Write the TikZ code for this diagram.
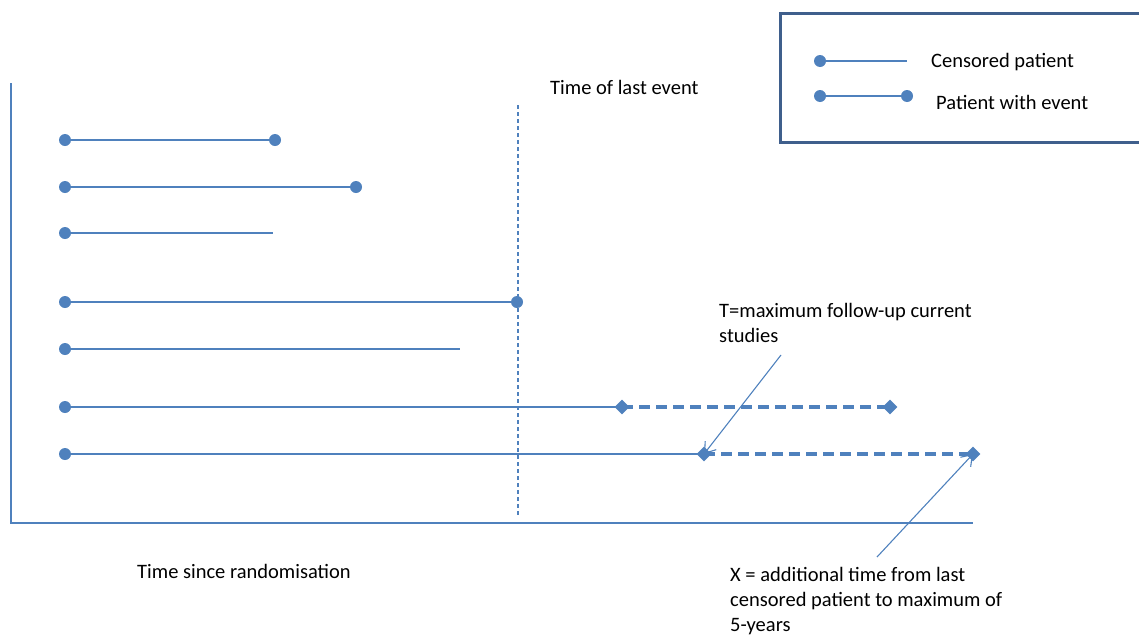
\documentclass[tikz,border=0pt]{standalone}
\usepackage{fontspec}
\setmainfont{Carlito}
\usetikzlibrary{arrows.meta,shapes.geometric}
\definecolor{ob}{HTML}{4F81BD}
\definecolor{bord}{HTML}{3F5F8C}
\begin{document}
\begin{tikzpicture}[x=1pt,y=-1pt,
  dotnode/.style={circle,fill=ob,inner sep=0pt,minimum size=12pt},
  dia/.style={diamond,fill=ob,inner sep=0pt,minimum size=15pt},
  pline/.style={draw=ob,line width=1.1pt},
  dline/.style={draw=ob,line width=4pt,dash pattern=on 11pt off 6pt},
  lbl/.style={font=\fontsize{20.5}{25}\selectfont,inner sep=0pt,anchor=west,align=left},
  pointer/.style={draw=ob,line width=1.1pt,-{Straight Barb[length=10pt,width=14pt,line width=1.1pt]}}]
\useasboundingbox (0,0) rectangle (1139,635);
% axes
\coordinate (ytop) at (11,83);
\coordinate (orig) at (11,523);
\coordinate (xend) at (973,523);
\draw[ob,line width=1.1pt] (ytop) -- (orig) -- (xend);
% last event line
\coordinate (vt) at (518,105);
\coordinate (vb) at (518,515);
\draw[ob,line width=1.1pt,dash pattern=on 4pt off 3pt] (vt) -- (vb);
\node[lbl] (tle) at (550,87) {Time of last event};
% rows
\node[dotnode] (a1) at (65,140) {}; \node[dotnode] (b1) at (275,140) {};
\draw[pline] (a1) -- (b1);
\node[dotnode] (a2) at (65,187) {}; \node[dotnode] (b2) at (356,187) {};
\draw[pline] (a2) -- (b2);
\node[dotnode] (a3) at (65,233) {}; \coordinate (b3) at (273,233);
\draw[pline] (a3) -- (b3);
\node[dotnode] (a4) at (65,302) {}; \node[dotnode] (b4) at (517,302) {};
\draw[pline] (a4) -- (b4);
\node[dotnode] (a5) at (65,349) {}; \coordinate (b5) at (460,349);
\draw[pline] (a5) -- (b5);
\node[dotnode] (a6) at (65,407) {};
\coordinate (p6) at (622,407); \coordinate (q6) at (890,407);
\draw[pline] (a6) -- (p6);
\draw[dline] (p6) -- (q6);
\node[dia] (b6) at (p6) {}; \node[dia] (c6) at (q6) {};
\node[dotnode] (a7) at (65,454) {};
\coordinate (p7) at (704,454); \coordinate (q7) at (973,454);
\draw[pline] (a7) -- (p7);
\draw[dline] (p7) -- (q7);
\node[dia] (b7) at (p7) {}; \node[dia] (c7) at (q7) {};
% annotations
\node[lbl,anchor=north west] (tlab) at (719,303) {T=maximum follow-up current\\studies};
\coordinate (ts) at (781,355);
\draw[pointer] (ts) -- (b7.center);
\node[lbl,anchor=north west] (xlab) at (730,567) {X = additional time from last\\censored patient to maximum of\\5-years};
\coordinate (xs) at (877,557);
\draw[pointer] (xs) -- (c7.center);
\node[lbl] (tsr) at (137,571) {Time since randomisation};
% legend
\draw[bord,line width=3pt] (1145,13) -- (780,13) -- (780,142) -- (1145,142);
\node[dotnode] (la1) at (820,61) {}; \coordinate (lb1) at (907,61);
\draw[pline] (la1) -- (lb1);
\node[lbl] (lt1) at (931,62) {Censored patient};
\node[dotnode] (la2) at (820,96) {}; \node[dotnode] (lb2) at (907,96) {};
\draw[pline] (la2) -- (lb2);
\node[lbl] (lt2) at (936,102) {Patient with event};
\end{tikzpicture}
\end{document}
